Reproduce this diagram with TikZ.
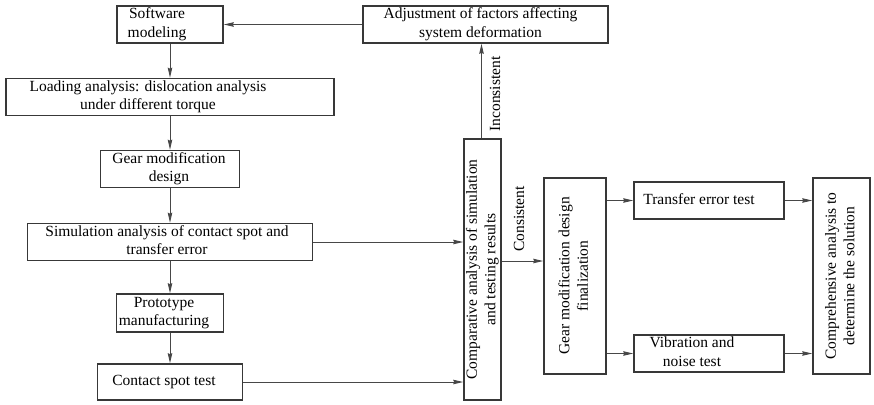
\documentclass[tikz,border=0pt]{standalone}
\usepackage{fontspec}
\usepackage{graphicx}
\setmainfont{Liberation Serif}
\usetikzlibrary{arrows.meta}
% text set sideways inside an upright box
\newcommand\sidetext[1]{\rotatebox{90}{\begin{tabular}{@{}c@{}}#1\end{tabular}}}
% centred lines moved sideways by #1 within their box
\newcommand\offs[2]{\kern#1\begin{tabular}{@{}c@{}}#2\end{tabular}\kern-#1}
\begin{document}
\begin{tikzpicture}[x=1pt,y=-1pt,
  box/.style={draw=black!78, line width=1.6pt, fill=white, inner sep=0pt,
              font=\fontsize{15.5}{18.5}\selectfont},
  flow/.style={draw=black!72, line width=0.9pt,
               -{Stealth[length=10pt,width=4.5pt,inset=1pt]}},
  lbl/.style={font=\fontsize{15.5}{18.5}\selectfont, rotate=90, inner sep=0pt}]
\useasboundingbox (0,0) rectangle (874,404);

% left column
\node[box, minimum width=106pt, minimum height=37pt] (soft)  at (170,24.5) {\offs{-13pt}{Software\\modeling}};
\node[box, minimum width=328pt, minimum height=36pt] (load)  at (170,97)   {\offs{-22pt}{Loading analysis: dislocation analysis\\under different torque}};
\node[box, minimum width=139pt, minimum height=36pt] (gmd)   at (170,169)  {\offs{-1pt}{Gear modification\\design}};
\node[box, minimum width=285pt, minimum height=36pt] (sim)   at (170,242)  {\offs{-3pt}{Simulation analysis of contact spot and\\transfer error}};
\node[box, minimum width=107pt, minimum height=38pt] (proto) at (170,313)  {\offs{-6pt}{Prototype\\manufacturing}};
\node[box, minimum width=145pt, minimum height=36pt] (cst)   at (170,382)  {\offs{-6pt}{Contact spot test}};

% top feedback box
\node[box, minimum width=245pt, minimum height=37pt] (adj) at (485.5,24.5) {\offs{-5pt}{Adjustment of factors affecting\\system deformation}};

% comparison and finalisation
\node[box, minimum width=37pt, minimum height=261pt] (comp)  at (482.5,269.5) {\sidetext{Comparative analysis of simulation\\and testing results}};
\node[box, minimum width=62pt, minimum height=196pt] (fin)   at (575,276)     {\sidetext{Gear modification design\\finalization}};

% tests and final analysis
\node[box, minimum width=150pt, minimum height=37pt] (tet)   at (709,200.5) {\offs{-10pt}{Transfer error test}};
\node[box, minimum width=150pt, minimum height=37pt] (vnt)   at (709,353.5) {\offs{-17pt}{Vibration and\\noise test}};
\node[box, minimum width=57pt, minimum height=196pt] (compr) at (841.5,276)   {\sidetext{Comprehensive analysis to\\determine the solution}};

% connectors
\draw[flow] (adj.west) -- (soft.east);
\draw[flow] (soft.south) -- (load.north);
\draw[flow] (load.south) -- (gmd.north);
\draw[flow] (gmd.south) -- (sim.north);
\draw[flow] (sim.south) -- (proto.north);
\draw[flow] (proto.south) -- (cst.north);
\draw[flow] (sim.east) -- (sim.east -| comp.west);
\draw[flow] (cst.east) -- (cst.east -| comp.west);
\draw[flow] ([xshift=-1pt]comp.north) -- ([xshift=-1pt]comp.north |- adj.south);
\draw[flow] ([yshift=8.5pt]comp.east) -- ([yshift=8.5pt]comp.east -| fin.west);
\draw[flow] (tet.west -| fin.east) -- (tet.west);
\draw[flow] (vnt.west -| fin.east) -- (vnt.west);
\draw[flow] (tet.east) -- (tet.east -| compr.west);
\draw[flow] (vnt.east) -- (vnt.east -| compr.west);

% branch labels
\node[lbl] (inc)  at (495,94)  {Inconsistent};
\node[lbl] (cons) at (519,219) {Consistent};
\end{tikzpicture}
\end{document}
